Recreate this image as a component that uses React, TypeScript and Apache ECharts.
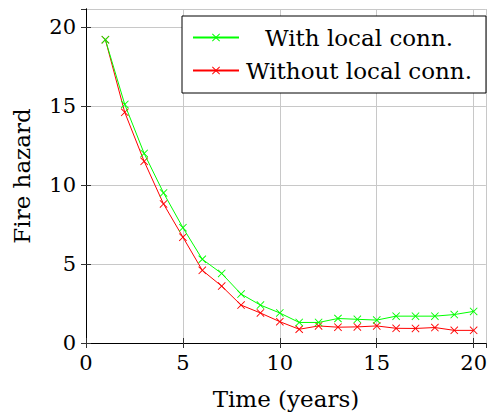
import React, { useEffect, useRef } from "react";
import * as echarts from "echarts";

const years = [1, 2, 3, 4, 5, 6, 7, 8, 9, 10, 11, 12, 13, 14, 15, 16, 17, 18, 19, 20];
const withLocal = [19.2, 15.1, 12.0, 9.5, 7.3, 5.3, 4.4, 3.1, 2.4, 1.9, 1.3, 1.3, 1.55, 1.5, 1.45, 1.7, 1.7, 1.7, 1.8, 2.0];
const withoutLocal = [19.2, 14.6, 11.5, 8.8, 6.7, 4.6, 3.6, 2.4, 1.9, 1.35, 0.87, 1.08, 1.0, 1.02, 1.08, 0.93, 0.92, 0.98, 0.8, 0.8];
const seriesNames = ["With local conn.", "Without local conn."];
const seriesColors = ["#00ff00", "#ff0000"];
const xTitle = "Time (years)";
const yTitle = "Fire hazard";

const FONT = "DejaVu Serif";
const CROSS =
  "path://M0,0.8L0.8,0L5,4.2L9.2,0L10,0.8L5.8,5L10,9.2L9.2,10L5,5.8L0.8,10L0,9.2L4.2,5Z";

export default function App() {
  const ref = useRef<HTMLDivElement>(null);
  useEffect(() => {
    if (!ref.current) return;
    const chart = echarts.init(ref.current, undefined, { renderer: "svg" });
    const fmt = (v: number) => (Math.abs(v % 5) < 1e-9 ? String(v) : "");
    const axisCommon = {
      axisLine: { show: true, lineStyle: { color: "#000", width: 1 } },
      axisTick: { show: true, inside: true, length: 5, lineStyle: { color: "#333", width: 1 } },
    };
    const xMin = 0, xMax = 20.63, yMin = 0, yMax = 21.14;
    const data = [withLocal, withoutLocal];
    chart.setOption({
      animation: false,
      backgroundColor: "#fff",
      textStyle: { fontFamily: FONT },
      grid: { left: 86, right: 1, top: 9, bottom: 74, containLabel: false },
      xAxis: [
        {
          type: "value",
          min: xMin,
          max: xMax,
          interval: 5,
          position: "bottom",
          ...axisCommon,
          axisLabel: { formatter: fmt, fontFamily: FONT, fontSize: 21, color: "#000", margin: 9, showMaxLabel: false },
          splitLine: { show: true, lineStyle: { color: "#c8c8c8", width: 1 } },
          name: xTitle,
          nameLocation: "middle",
          nameGap: 44,
          nameTextStyle: { fontFamily: FONT, fontSize: 23, color: "#000" },
        },
        {
          type: "value",
          min: xMin,
          max: xMax,
          interval: 5,
          position: "top",
          ...axisCommon,
          axisLabel: { show: false },
          splitLine: { show: false },
        },
      ],
      yAxis: [
        {
          type: "value",
          min: yMin,
          max: yMax,
          interval: 5,
          position: "left",
          ...axisCommon,
          axisLabel: { formatter: fmt, fontFamily: FONT, fontSize: 21, color: "#000", margin: 10, showMaxLabel: false },
          splitLine: { show: true, lineStyle: { color: "#c8c8c8", width: 1 } },
          name: yTitle,
          nameLocation: "middle",
          nameGap: 53,
          nameTextStyle: { fontFamily: FONT, fontSize: 23, color: "#000" },
        },
        {
          type: "value",
          min: yMin,
          max: yMax,
          interval: 5,
          position: "right",
          ...axisCommon,
          axisLabel: { show: false },
          splitLine: { show: false },
        },
      ],
      legend: {
        orient: "vertical",
        left: 182,
        top: 16,
        padding: [10, 14, 11, 10],
        itemGap: 10,
        itemWidth: 46,
        itemHeight: 10,
        borderColor: "#000",
        borderWidth: 1,
        borderRadius: 0,
        backgroundColor: "#fff",
        data: seriesNames,
        formatter: (name: string) => `{t|${name}}`,
        textStyle: {
          fontFamily: FONT,
          fontSize: 23,
          color: "#000",
          rich: { t: { width: 230, align: "center", fontFamily: FONT, fontSize: 23, color: "#000" } },
        },
      },
      series: seriesNames.map((name, i) => ({
        name,
        type: "line",
        xAxisIndex: 0,
        yAxisIndex: 0,
        data: years.map((x, j) => [x, data[i][j]]),
        symbol: CROSS,
        symbolSize: 8,
        showSymbol: true,
        lineStyle: { color: seriesColors[i], width: 1 },
        itemStyle: { color: seriesColors[i] },
        z: 3 - i,
      })),
    });
    return () => chart.dispose();
  }, []);
  return (
    <div
      ref={ref}
      style={{ position: "fixed", left: 0, top: 0, width: 490, height: 417 }}
    />
  );
}
